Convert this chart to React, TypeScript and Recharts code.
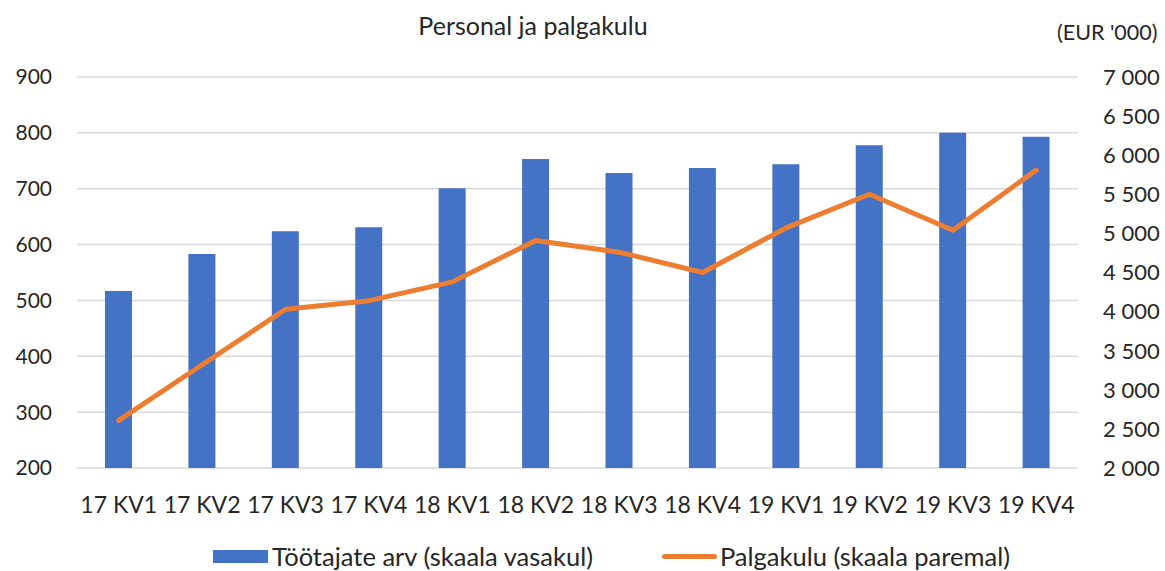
import React from "react"
import {
  ComposedChart,
  Bar,
  Line,
  XAxis,
  YAxis,
  CartesianGrid,
} from "recharts"

const quarters = [
  "17 KV1", "17 KV2", "17 KV3", "17 KV4",
  "18 KV1", "18 KV2", "18 KV3", "18 KV4",
  "19 KV1", "19 KV2", "19 KV3", "19 KV4",
]
const employees = [517, 583, 624, 631, 701, 753, 728, 737, 744, 778, 800, 793]
const payroll = [2610, 3320, 4030, 4140, 4380, 4910, 4760, 4500, 5070, 5500, 5040, 5810]
const leftTicks = [200, 300, 400, 500, 600, 700, 800, 900]
const rightTicks = [2000, 2500, 3000, 3500, 4000, 4500, 5000, 5500, 6000, 6500, 7000]

const data = quarters.map((q, i) => ({
  q,
  employees: employees[i],
  payroll: payroll[i],
}))

const FONT = "Lato, 'Open Sans', sans-serif"
const TEXT = "#262626"
const BLUE = "#4472C4"
const ORANGE = "#ED7D31"

const fmt = (v: number) => v.toLocaleString("en-US").replace(/,/g, " ")

function LegendBox() {
  return (
    <div
      style={{
        position: "absolute",
        top: 541,
        left: 213,
        display: "flex",
        alignItems: "center",
        fontFamily: FONT,
        fontSize: 25.5,
        color: TEXT,
        whiteSpace: "nowrap",
      }}
    >
      <span style={{ width: 55, height: 13, background: BLUE, display: "inline-block", marginRight: 4 }} />
      <span>Töötajate arv (skaala vasakul)</span>
      <span
        style={{
          width: 55,
          height: 5,
          borderRadius: 3,
          background: ORANGE,
          display: "inline-block",
          marginLeft: 69,
          marginRight: 3,
        }}
      />
      <span>Palgakulu (skaala paremal)</span>
    </div>
  )
}

export default function App() {
  return (
    <div style={{ position: "absolute", left: 0, top: 0, width: 1165, height: 571, background: "#fff" }}>
      <div
        style={{
          position: "absolute",
          top: 10,
          left: 0,
          width: 1066,
          textAlign: "center",
          fontFamily: FONT,
          fontSize: 25,
          color: TEXT,
        }}
      >
        Personal ja palgakulu
      </div>
      <div
        style={{
          position: "absolute",
          top: 19,
          left: 1057,
          fontFamily: FONT,
          fontSize: 21.5,
          color: TEXT,
        }}
      >
        (EUR '000)
      </div>
      <ComposedChart
        width={1165}
        height={571}
        data={data}
        margin={{ top: 77, right: 0, bottom: 43, left: 0 }}
      >
        <CartesianGrid vertical={false} stroke="#d9d9d9" strokeWidth={1.5} yAxisId="left" />
        <XAxis
          dataKey="q"
          axisLine={false}
          tickLine={false}
          tickSize={0}
          tickMargin={29}
          height={60}
          interval={0}
          tick={{ fill: TEXT, fontSize: 23, fontFamily: FONT }}
        />
        <YAxis
          yAxisId="left"
          orientation="left"
          domain={[200, 900]}
          ticks={leftTicks}
          width={77}
          axisLine={false}
          tickLine={false}
          tickSize={0}
          tickMargin={25}
          tick={{ fill: TEXT, fontSize: 21, fontFamily: FONT }}
        />
        <YAxis
          yAxisId="right"
          orientation="right"
          domain={[2000, 7000]}
          ticks={rightTicks}
          width={87}
          axisLine={false}
          tickLine={false}
          tickSize={0}
          tickMargin={25}
          tickFormatter={fmt}
          tick={{ fill: TEXT, fontSize: 22, fontFamily: FONT }}
        />
        <Bar
          yAxisId="left"
          dataKey="employees"
          fill={BLUE}
          barSize={27}
          isAnimationActive={false}
        />
        <Line
          yAxisId="right"
          dataKey="payroll"
          stroke={ORANGE}
          strokeWidth={5}
          strokeLinecap="round"
          strokeLinejoin="round"
          dot={false}
          activeDot={false}
          isAnimationActive={false}
        />
      </ComposedChart>
      <LegendBox />
    </div>
  )
}
